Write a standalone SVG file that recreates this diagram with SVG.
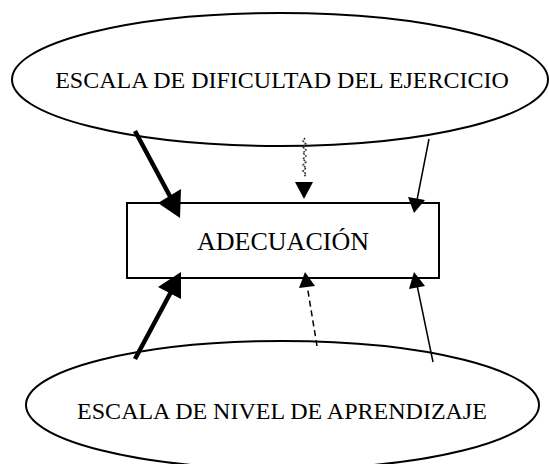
<svg xmlns="http://www.w3.org/2000/svg" width="549" height="464" viewBox="0 0 549 464">
<style>
.shape{fill:#fff;stroke:#000;stroke-width:2}
.lbl{font-family:"Liberation Serif","Times New Roman",serif;font-size:24px;fill:#000;text-anchor:middle}
.thick{stroke:#000;stroke-width:4.5;fill:none}
.thin{stroke:#000;stroke-width:1.5;fill:none}
.dash{stroke:#000;stroke-width:1.5;fill:none;stroke-dasharray:6 4}
.wavy{stroke:#333;stroke-width:1.5;fill:none;stroke-dasharray:2 1}
.head{fill:#000;stroke:none}
</style>
<rect width="549" height="464" fill="#fff"/>
<g id="top-node">
<ellipse class="shape" cx="280" cy="79.5" rx="268" ry="66.5"/>
<text class="lbl" x="282" y="88">ESCALA DE DIFICULTAD DEL EJERCICIO</text>
</g>
<g id="bottom-node">
<ellipse class="shape" cx="282.5" cy="405" rx="256.5" ry="64"/>
<text class="lbl" x="282" y="419">ESCALA DE NIVEL DE APRENDIZAJE</text>
</g>
<g id="center-node">
<rect class="shape" x="127" y="203" width="312" height="75"/>
<text class="lbl" x="283" y="250" style="font-size:26px">ADECUACIÓN</text>
</g>
<g id="connectors">
<line class="thick" x1="135" y1="131" x2="172" y2="200"/>
<polygon class="head" points="180,218 158,203 181,189"/>
<path class="wavy" d="M305,138 l-2,3 l3,3 l-3,3 l3,3 l-3,3 l3,3 l-3,3 l3,3 l-3,3 l3,3 l-3,3 l3,3 l-2,3"/>
<polygon class="head" points="304,199 295,182 313,182"/>
<line class="thin" x1="429" y1="139" x2="417" y2="200"/>
<polygon class="head" points="414,213 408,197 425,200"/>
<line class="thick" x1="135" y1="359" x2="172" y2="290"/>
<polygon class="head" points="181,272 158,287 181,299"/>
<line class="dash" x1="317" y1="346" x2="307" y2="285"/>
<polygon class="head" points="305,272 299,288 315,286"/>
<line class="thin" x1="433" y1="362" x2="417" y2="285"/>
<polygon class="head" points="414,272 409,289 425,286"/>
</g>
</svg>
